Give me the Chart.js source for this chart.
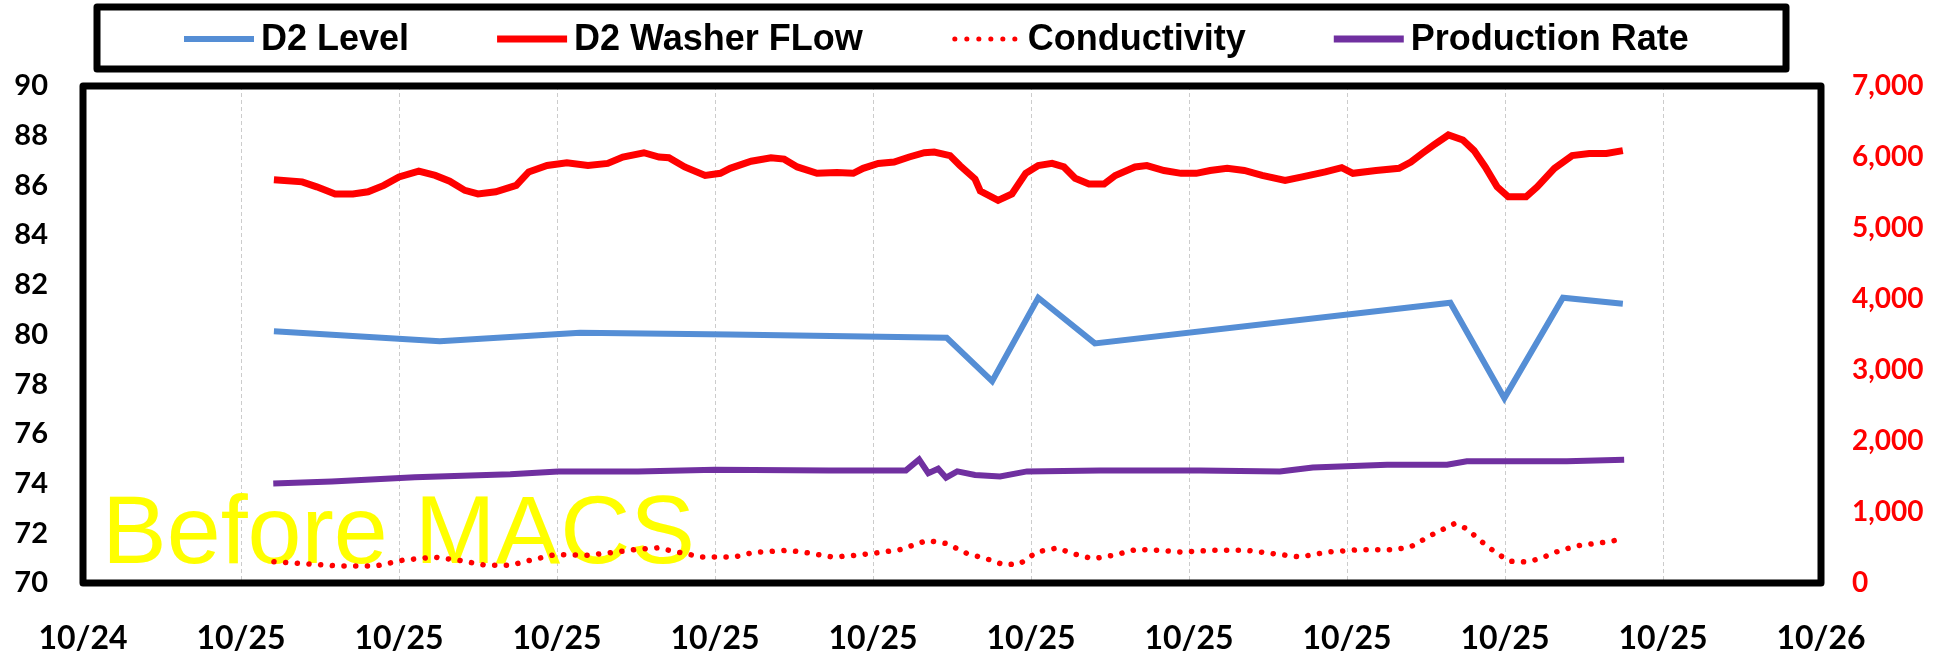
<!DOCTYPE html>
<html>
<head>
<meta charset="utf-8">
<script src="https://cdn.jsdelivr.net/npm/chart.js@4.4.0/dist/chart.umd.min.js"></script>
<style>
  html, body { margin: 0; padding: 0; background: #fff; }
  canvas { display: block; }
</style>
</head>
<body>
<canvas id="chart" width="1946" height="652"></canvas>
<script>
// x values are hours after 10/25 00:00
const xMin = -2.4, xMax = 24, xStep = 2.4;
const xTickLabels = ['10/24', '10/25', '10/25', '10/25', '10/25', '10/25',
                     '10/25', '10/25', '10/25', '10/25', '10/25', '10/26'];

const levelHours = [0.50, 3.02, 5.15, 7.43, 10.72, 11.41, 12.11, 12.97, 18.37, 19.19, 20.08, 20.99];
const levelValues = [80.13, 79.73, 80.07, 80.0, 79.87, 78.12, 81.48, 79.64, 81.28, 77.44, 81.48, 81.24];

const flowHours = [0.50, 0.93, 1.15, 1.43, 1.70, 1.93, 2.17, 2.40, 2.70, 2.95, 3.17, 3.40, 3.60, 3.87,
  4.18, 4.37, 4.65, 4.95, 5.27, 5.57, 5.80, 6.12, 6.35, 6.50, 6.74, 7.05, 7.28, 7.43, 7.75, 8.05,
  8.25, 8.45, 8.75, 9.05, 9.30, 9.45, 9.68, 9.92, 10.15, 10.38, 10.53, 10.77, 10.92, 11.15, 11.23,
  11.50, 11.71, 11.92, 12.11, 12.32, 12.50, 12.67, 12.88, 13.11, 13.28, 13.58, 13.76, 14.02, 14.28,
  14.51, 14.72, 14.98, 15.24, 15.51, 15.86, 16.12, 16.47, 16.72, 16.89, 17.24, 17.59, 17.77, 17.94,
  18.12, 18.34, 18.56, 18.73, 18.90, 19.08, 19.25, 19.52, 19.69, 19.95, 20.22, 20.48, 20.74, 20.99];
const flowValues = [5680, 5650, 5580, 5480, 5480, 5510, 5600, 5720, 5800, 5740, 5660, 5530, 5480, 5510,
  5600, 5790, 5880, 5920, 5880, 5910, 6000, 6060, 6000, 5990, 5860, 5740, 5770, 5840, 5940, 5990,
  5970, 5860, 5770, 5780, 5770, 5840, 5910, 5930, 6000, 6060, 6070, 6020, 5880, 5690, 5520,
  5390, 5480, 5770, 5880, 5910, 5860, 5700, 5620, 5620, 5740, 5860, 5880, 5810, 5770,
  5770, 5810, 5840, 5810, 5740, 5670, 5720, 5790, 5850, 5770, 5810, 5840, 5930, 6050,
  6170, 6310, 6240, 6090, 5860, 5580, 5440, 5440, 5580, 5840, 6020, 6050, 6050, 6090];

const condHours = [0.50, 0.99, 1.47, 2.05, 2.45, 2.93, 3.31, 3.71, 4.09, 4.39, 4.77, 5.26, 5.65, 6.03,
  6.32, 6.61, 7.00, 7.49, 7.78, 8.31, 8.64, 8.99, 9.33, 9.71, 10.01, 10.42, 10.72, 11.03, 11.33,
  11.58, 11.83, 12.09, 12.40, 12.64, 12.94, 13.25, 13.61, 13.96, 14.26, 14.77, 15.28, 15.68, 16.09,
  16.50, 17.00, 17.50, 17.76, 18.12, 18.43, 18.62, 18.82, 19.08, 19.28, 19.53, 19.73, 20.04, 20.34,
  20.75, 21.01];
const condValues = [300, 270, 240, 240, 320, 365, 320, 250, 250, 320, 400, 390, 430, 475,
  495, 440, 365, 365, 430, 460, 420, 365, 390, 430, 470, 600, 555, 415, 340,
  258, 270, 437, 493, 413, 342, 390, 475, 460, 437, 460, 460, 413, 366,
  437, 469, 469, 507, 694, 835, 765, 601, 413, 306, 296, 342, 460, 531,
  577, 624];

const rateHours = [0.49, 1.38, 2.64, 4.09, 4.82, 6.03, 7.20, 8.93, 10.10, 10.30, 10.44, 10.59, 10.71,
  10.88, 11.15, 11.53, 11.94, 13.05, 14.57, 15.78, 16.28, 17.41, 18.32, 18.62, 20.14, 21.01];
const rateValues = [74.0, 74.08, 74.26, 74.38, 74.49, 74.49, 74.56, 74.53, 74.53, 74.97, 74.42, 74.6, 74.24,
  74.49, 74.35, 74.29, 74.49, 74.53, 74.53, 74.49, 74.65, 74.76, 74.76, 74.9, 74.9, 74.96];

const leftMin = 70, leftMax = 90, leftStep = 2;
const rightMin = 0, rightMax = 7000, rightStep = 1000;

function pts(xs, ys) {
  return xs.map((x, i) => ({ x: x, y: ys[i] }));
}

// box round the legend, drawn by hand like the Excel one
const legendPlugin = {
  id: 'boxLegend',
  afterDraw(chart) {
    const ctx = chart.ctx;
    ctx.save();
    ctx.lineWidth = 7;
    ctx.strokeStyle = '#000';
    ctx.lineJoin = 'round';
    ctx.strokeRect(97, 7, 1689, 62);

    ctx.font = 'bold 36px "Liberation Sans"';
    ctx.textBaseline = 'middle';
    ctx.fillStyle = '#000';
    let x = 184;
    const y = 39;
    chart.data.datasets.forEach(ds => {
      const dotted = !!ds.borderDash;
      ctx.save();
      ctx.strokeStyle = ds.borderColor;
      ctx.lineWidth = ds.legendWidth;
      ctx.setLineDash(dotted ? [0.1, 11.9] : []);
      ctx.lineCap = dotted ? 'round' : 'butt';
      ctx.beginPath();
      ctx.moveTo(x + (dotted ? 4 : 0), y);
      ctx.lineTo(x + (dotted ? 66 : 70), y);
      ctx.stroke();
      ctx.restore();
      ctx.fillText(ds.label, x + 77, y + 1);
      x += 77 + ctx.measureText(ds.label).width + 88;
    });
    ctx.restore();
  }
};

const framePlugin = {
  id: 'frame',
  beforeDatasetsDraw(chart) {
    const { ctx, chartArea: a } = chart;
    ctx.save();
    ctx.font = '97px "Liberation Sans"';
    ctx.fillStyle = '#FFFF00';
    ctx.textBaseline = 'alphabetic';
    ctx.fillText('Before MACS', a.left + 19, a.bottom - 20);
    ctx.restore();
  },
  afterDatasetsDraw(chart) {
    const { ctx, chartArea: a } = chart;
    ctx.save();
    ctx.lineWidth = 7;
    ctx.strokeStyle = '#000';
    ctx.lineJoin = 'round';
    ctx.strokeRect(a.left, a.top, a.right - a.left, a.bottom - a.top);
    ctx.restore();
  }
};

new Chart(document.getElementById('chart'), {
  type: 'line',
  data: {
    datasets: [
      {
        label: 'D2 Level',
        data: pts(levelHours, levelValues),
        borderColor: '#558ED5',
        borderWidth: 6,
        legendWidth: 6,
        yAxisID: 'y'
      },
      {
        label: 'D2 Washer FLow',
        data: pts(flowHours, flowValues),
        borderColor: '#FF0000',
        borderWidth: 7,
        legendWidth: 7,
        yAxisID: 'y1'
      },
      {
        label: 'Conductivity',
        data: pts(condHours, condValues),
        borderColor: '#FF0000',
        borderWidth: 5.5,
        borderDash: [0.1, 11.6],
        borderCapStyle: 'round',
        legendWidth: 5,
        yAxisID: 'y1'
      },
      {
        label: 'Production Rate',
        data: pts(rateHours, rateValues),
        borderColor: '#7030A0',
        borderWidth: 6,
        legendWidth: 7,
        yAxisID: 'y'
      }
    ]
  },
  options: {
    responsive: false,
    animation: false,
    devicePixelRatio: 1,
    layout: { padding: { top: 86, left: 0, right: 0, bottom: 0 } },
    elements: {
      point: { radius: 0, hoverRadius: 0 },
      line: { tension: 0, fill: false }
    },
    plugins: {
      legend: { display: false },
      tooltip: { enabled: false }
    },
    scales: {
      x: {
        type: 'linear',
        min: xMin,
        max: xMax,
        afterBuildTicks: s => {
          s.ticks = xTickLabels.map((_, i) => ({ value: xMin + i * xStep }));
        },
        afterFit: s => { s.height = 69; },
        ticks: {
          autoSkip: false,
          maxRotation: 0,
          padding: 36,
          color: '#000',
          font: { family: 'Lato', size: 32, weight: 'bold' },
          callback: (v, i) => xTickLabels[i]
        },
        grid: { color: '#cccccc', lineWidth: 1, drawTicks: false },
        border: { display: false, dash: [4, 3] }
      },
      y: {
        position: 'left',
        min: leftMin,
        max: leftMax,
        afterFit: s => { s.width = 83; },
        ticks: {
          stepSize: leftStep,
          padding: 35,
          color: '#000',
          font: { family: 'Lato', size: 29, weight: 'bold' }
        },
        grid: { display: false, drawTicks: false },
        border: { display: false }
      },
      y1: {
        position: 'right',
        min: rightMin,
        max: rightMax,
        afterFit: s => { s.width = 125; },
        ticks: {
          stepSize: rightStep,
          padding: 31,
          color: '#FF0000',
          font: { family: 'Lato', size: 28, weight: 'bold' },
          callback: v => v.toLocaleString('en-US')
        },
        grid: { display: false, drawTicks: false },
        border: { display: false }
      }
    }
  },
  plugins: [framePlugin, legendPlugin]
});
</script>
</body>
</html>
